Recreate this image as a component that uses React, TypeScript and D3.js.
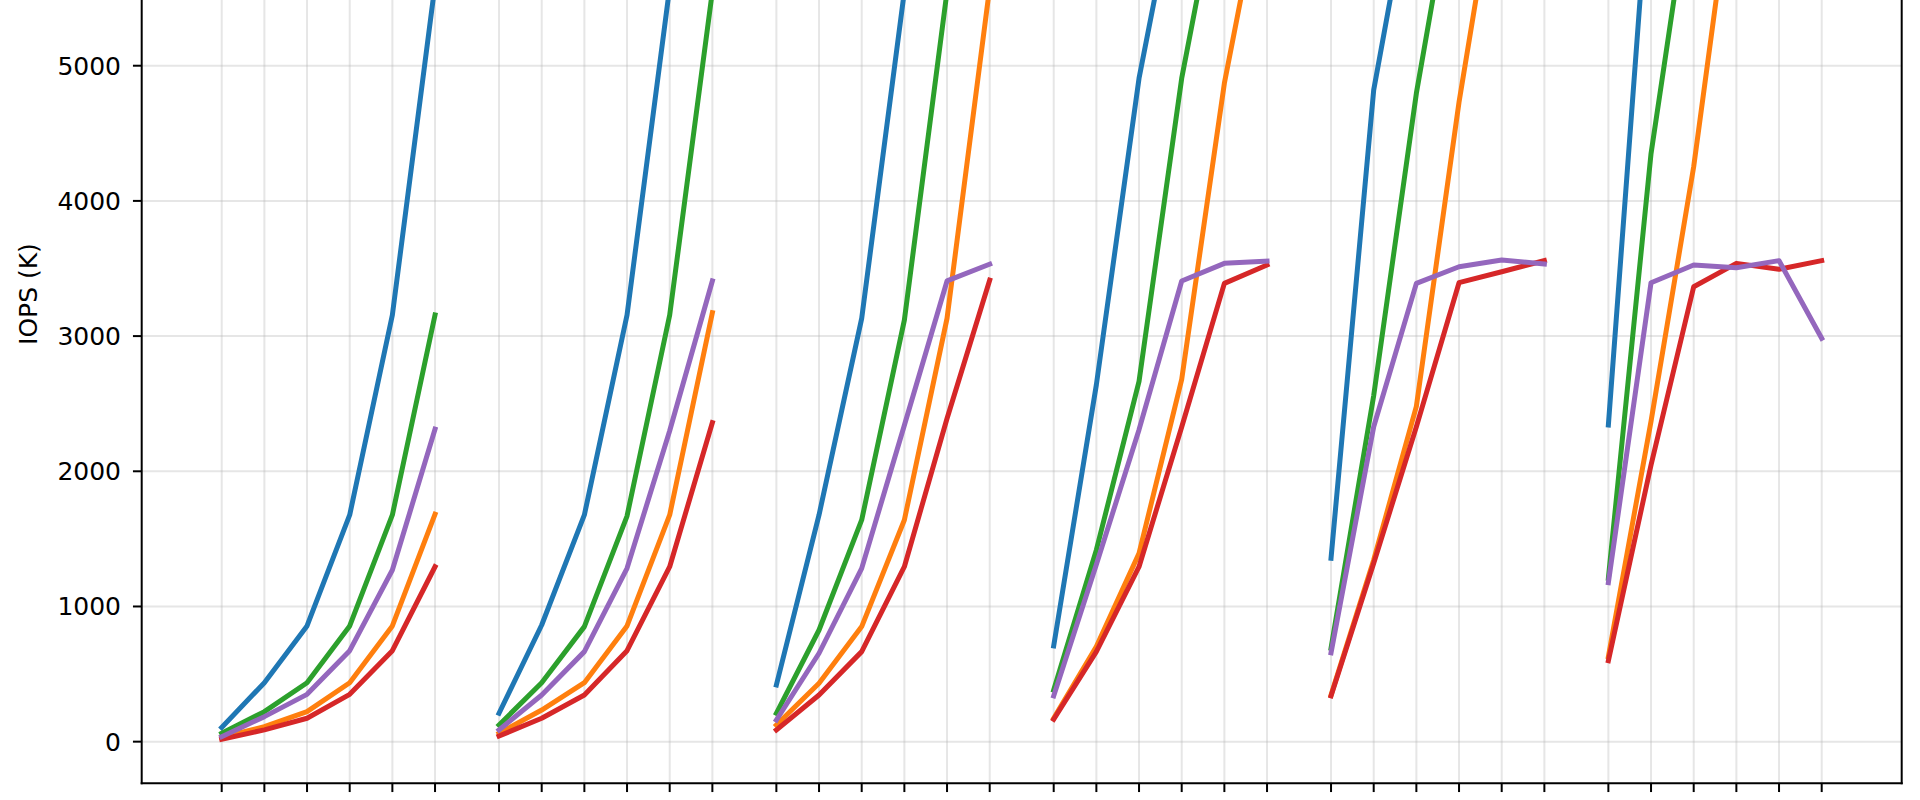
import React, { useEffect, useRef } from "react";
import * as d3 from "d3";

// x layout: 6 groups of 6 points each; group offset 6.5 units
const GROUP_COUNT = 6;
const POINTS_PER_GROUP = 6;
const GROUP_STEP = 6.5;

const Y_TICKS = [0, 1000, 2000, 3000, 4000, 5000];
const Y_LABEL = "IOPS (K)";

// values per series: 6 groups x 6 points (null = no point)
const seriesBlue = [
  105, 436, 856, 1677, 3156, 5600,
  210, 863, 1677, 3156, 5580, null,
  419, 1677, 3131, 5550, null, null,
  708, 2640, 4907, 6520, null, null,
  1356, 4820, 6550, null, null, null,
  2342, 6580, null, null, null, null,
];
const seriesOrange = [
  33, 111, 222, 436, 856, 1682,
  62, 234, 436, 856, 1677, 3173,
  123, 432, 851, 1640, 3131, 5580,
  173, 703, 1393, 2680, 4870, 6490,
  345, 1344, 2480, 4730, 6650, null,
  629, 2370, 4253, 6600, null, null,
];
const seriesGreen = [
  62, 222, 436, 856, 1677, 3156,
  123, 436, 851, 1669, 3156, 5550,
  210, 826, 1640, 3118, 5550, null,
  382, 1418, 2665, 4907, 6545, null,
  691, 2560, 4796, 6600, null, null,
  1208, 4350, 6470, null, null, null,
];
const seriesRed = [
  18, 87, 173, 350, 673, 1294,
  42, 173, 345, 673, 1294, 2360,
  87, 345, 666, 1294, 2390, 3414,
  166, 666, 1294, 2328, 3390, 3526,
  338, 1320, 2330, 3395, 3476, 3558,
  599, 2047, 3365, 3538, 3494, 3558,
];
const seriesPurple = [
  37, 185, 350, 673, 1270, 2311,
  87, 345, 666, 1282, 2300, 3408,
  160, 654, 1282, 2340, 3408, 3532,
  338, 1310, 2308, 3408, 3538, 3555,
  658, 2330, 3390, 3513, 3563, 3533,
  1176, 3395, 3526, 3506, 3558, 2984,
];

const SERIES = [
  { values: seriesBlue, color: "#1f77b4" },
  { values: seriesOrange, color: "#ff7f0e" },
  { values: seriesGreen, color: "#2ca02c" },
  { values: seriesRed, color: "#d62728" },
  { values: seriesPurple, color: "#9467bd" },
];

const W = 1920;
const H = 800;
const PLOT_LEFT = 141.7;
const PLOT_RIGHT = 1901.7;
const PLOT_BOTTOM = 783.3;
const PLOT_TOP = -195.2;
const FONT = "'DejaVu Sans', sans-serif";

export default function App() {
  const ref = useRef<SVGSVGElement>(null);

  useEffect(() => {
    const svg = d3.select(ref.current);
    svg.selectAll("*").remove();

    const xPositions: number[] = [];
    for (let g = 0; g < GROUP_COUNT; g++)
      for (let k = 0; k < POINTS_PER_GROUP; k++) xPositions.push(g * GROUP_STEP + k);

    const x = d3
      .scaleLinear()
      .domain([-1.875, (GROUP_COUNT - 1) * GROUP_STEP + POINTS_PER_GROUP - 1 + 1.875])
      .range([PLOT_LEFT, PLOT_RIGHT]);
    const y = d3.scaleLinear().domain([-308, 6930]).range([PLOT_BOTTOM, PLOT_TOP]);

    svg.append("rect").attr("width", W).attr("height", H).attr("fill", "#fff");

    const defs = svg.append("defs");
    defs
      .append("clipPath")
      .attr("id", "plotclip")
      .append("rect")
      .attr("x", PLOT_LEFT)
      .attr("y", PLOT_TOP)
      .attr("width", PLOT_RIGHT - PLOT_LEFT)
      .attr("height", PLOT_BOTTOM - PLOT_TOP);

    // grid
    const grid = svg.append("g");
    grid
      .selectAll("line.v")
      .data(xPositions)
      .join("line")
      .attr("x1", (d) => x(d))
      .attr("x2", (d) => x(d))
      .attr("y1", PLOT_TOP)
      .attr("y2", PLOT_BOTTOM)
      .attr("stroke", "#b0b0b0")
      .attr("stroke-opacity", 0.32)
      .attr("stroke-width", 2);
    grid
      .selectAll("line.h")
      .data(Y_TICKS)
      .join("line")
      .attr("x1", PLOT_LEFT)
      .attr("x2", PLOT_RIGHT)
      .attr("y1", (d) => y(d))
      .attr("y2", (d) => y(d))
      .attr("stroke", "#b0b0b0")
      .attr("stroke-opacity", 0.32)
      .attr("stroke-width", 2);

    // lines
    const linesG = svg.append("g").attr("clip-path", "url(#plotclip)");
    const line = d3
      .line<{ x: number; v: number | null }>()
      .defined((d) => d.v !== null)
      .x((d) => x(d.x))
      .y((d) => y(d.v as number));

    SERIES.forEach((s) => {
      for (let g = 0; g < GROUP_COUNT; g++) {
        const pts = [];
        for (let k = 0; k < POINTS_PER_GROUP; k++) {
          const i = g * POINTS_PER_GROUP + k;
          pts.push({ x: xPositions[i], v: s.values[i] });
        }
        linesG
          .append("path")
          .attr("d", line(pts) || "")
          .attr("fill", "none")
          .attr("stroke", s.color)
          .attr("stroke-width", 5)
          .attr("stroke-linecap", "square")
          .attr("stroke-linejoin", "round");
      }
    });

    // spines
    const axisColor = "#000";
    svg
      .append("line")
      .attr("x1", PLOT_LEFT)
      .attr("x2", PLOT_LEFT)
      .attr("y1", PLOT_TOP)
      .attr("y2", PLOT_BOTTOM + 1)
      .attr("stroke", axisColor)
      .attr("stroke-width", 2);
    svg
      .append("line")
      .attr("x1", PLOT_RIGHT)
      .attr("x2", PLOT_RIGHT)
      .attr("y1", PLOT_TOP)
      .attr("y2", PLOT_BOTTOM + 1)
      .attr("stroke", axisColor)
      .attr("stroke-width", 2);
    svg
      .append("line")
      .attr("x1", PLOT_LEFT - 1)
      .attr("x2", PLOT_RIGHT + 1)
      .attr("y1", PLOT_BOTTOM)
      .attr("y2", PLOT_BOTTOM)
      .attr("stroke", axisColor)
      .attr("stroke-width", 2);

    // y ticks
    const yt = svg.append("g");
    yt.selectAll("line")
      .data(Y_TICKS)
      .join("line")
      .attr("x1", PLOT_LEFT - 8.75)
      .attr("x2", PLOT_LEFT)
      .attr("y1", (d) => y(d))
      .attr("y2", (d) => y(d))
      .attr("stroke", axisColor)
      .attr("stroke-width", 2);
    yt.selectAll("text")
      .data(Y_TICKS)
      .join("text")
      .attr("x", 121)
      .attr("y", (d) => y(d))
      .attr("dy", "0.36em")
      .attr("text-anchor", "end")
      .attr("font-family", FONT)
      .attr("font-size", 25)
      .attr("fill", "#000")
      .text((d) => String(d));

    // x ticks
    svg
      .append("g")
      .selectAll("line")
      .data(xPositions)
      .join("line")
      .attr("x1", (d) => x(d))
      .attr("x2", (d) => x(d))
      .attr("y1", PLOT_BOTTOM)
      .attr("y2", PLOT_BOTTOM + 8.75)
      .attr("stroke", axisColor)
      .attr("stroke-width", 2);

    // y label
    svg
      .append("text")
      .attr("transform", `translate(36.7, ${(PLOT_TOP + PLOT_BOTTOM) / 2}) rotate(-90)`)
      .attr("text-anchor", "middle")
      .attr("font-family", FONT)
      .attr("font-size", 25)
      .attr("fill", "#000")
      .text(Y_LABEL);
  }, []);

  return (
    <svg
      ref={ref}
      width={W}
      height={H}
      style={{ position: "absolute", left: 0, top: 0, display: "block" }}
    />
  );
}
